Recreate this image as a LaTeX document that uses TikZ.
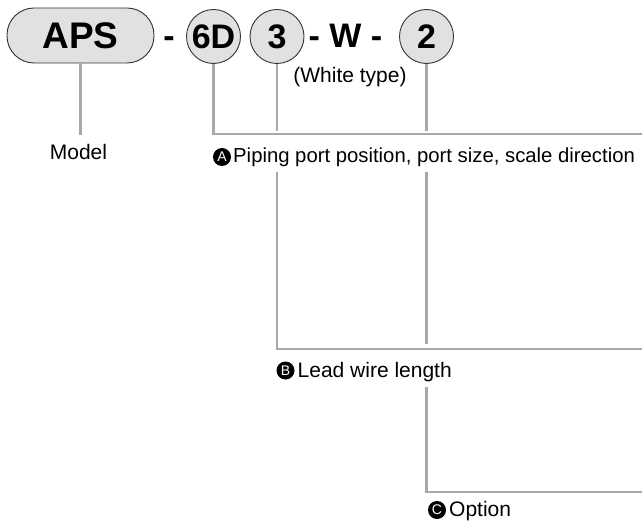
\documentclass[tikz,border=0pt]{standalone}
\usepackage{fontspec}
\setmainfont{Liberation Sans}
\usetikzlibrary{calc}
\definecolor{codefill}{HTML}{E1E1E1}
\definecolor{leadgray}{HTML}{A8A8A8}
\newcommand{\bigcode}{\fontsize{34}{34}\selectfont\bfseries}
\tikzset{
  codebox/.style={draw=black!80,fill=codefill,line width=0.9pt,inner sep=0pt,font=\bigcode},
  codeball/.style={codebox,circle,minimum size=54pt},
  tagdot/.style={circle,fill=black,text=white,minimum size=18pt,inner sep=0pt,font=\fontsize{14}{14}\selectfont},
  lead/.style={draw=leadgray,line width=2.2pt},
  lbl/.style={inner sep=0pt,font=\fontsize{21}{21}\selectfont}
}
\begin{document}
\begin{tikzpicture}[x=1pt,y=-1pt]
  \useasboundingbox (0,0) rectangle (642,521);
  \node[codebox,rounded corners=27pt,minimum width=147pt,minimum height=55pt,font=\fontsize{37}{37}\selectfont\bfseries] (aps) at (80.5,35.5) {APS};
  \node[inner sep=0pt,anchor=base,font=\bigcode] (dash) at (169,48) {-};
  \node[codeball] (c6d) at (213.5,36.5) {6D};
  \node[codeball] (c3) at (277,36.5) {3};
  \node[inner sep=0pt,font=\bigcode] (wcode) at (345.5,36) {- W -};
  \node[codeball] (c2) at (426.5,36.5) {2};
  \node[lbl,anchor=base] (white) at (350,83) {(White type)};
  \node[lbl,anchor=base] (model) at (78.5,160) {Model};
  \node[tagdot] (tagA) at (222,157) {A};
  \node[lbl,anchor=base west,font=\fontsize{20.3}{21}\selectfont] (txtA) at (233,163) {Piping port position, port size, scale direction};
  \node[tagdot] (tagB) at (285.5,370.5) {B};
  \node[lbl,anchor=base west] (txtB) at (297.5,377.5) {Lead wire length};
  \node[tagdot] (tagC) at (437,510) {C};
  \node[lbl,anchor=base west] (txtC) at (449,516.5) {Option};
  \coordinate (aend) at (642,134);
  \coordinate (bend) at (642,349);
  \coordinate (cend) at (642,492);
  \draw[lead,shorten >=10pt] (aps.south) -- (aps.south |- model.north);
  \draw[lead] (c6d.south) |- (aend);
  \draw[lead,shorten >=3pt] (c3.south) -- (c3.south |- aend);
  \draw[lead,shorten >=3pt] (c2.south) -- (c2.south |- aend);
  \draw[lead,shorten <=4.5pt] (c3.south |- txtA.south) |- (bend);
  \draw[lead,shorten <=4.5pt,shorten >=5pt] (c2.south |- txtA.south) -- (c2.south |- bend);
  \draw[lead,shorten <=5pt] (c2.south |- txtB.south) |- (cend);
\end{tikzpicture}
\end{document}
